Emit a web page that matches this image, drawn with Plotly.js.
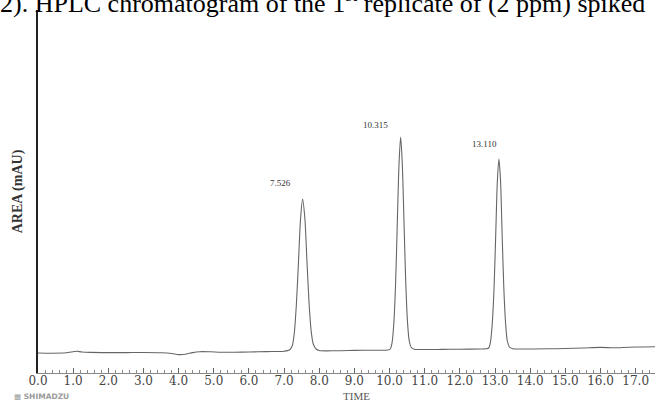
<!DOCTYPE html>
<html>
<head>
<meta charset="utf-8">
<script src="https://cdn.plot.ly/plotly-3.0.1.min.js"></script>
<style>
  html, body { margin: 0; padding: 0; background: #ffffff; }
  #chart { width: 661px; height: 403px; }
</style>
</head>
<body>
<div id="chart"></div>
<script>
// Retention time (min) and detector signal (mAU, relative to baseline)
const times = [
  0.00, 0.40, 0.80, 1.00, 1.10, 1.25, 1.50, 2.00, 2.50, 3.00, 3.50, 3.80, 4.00, 4.20, 4.40, 4.60, 4.90, 5.20, 5.60, 6.00, 6.50, 7.00,
  7.15, 7.23, 7.29, 7.35, 7.41, 7.47, 7.526, 7.59, 7.65, 7.71, 7.77, 7.83, 7.91, 8.00,
  8.50, 9.00, 9.50,
  9.95, 10.02, 10.07, 10.12, 10.17, 10.22, 10.27, 10.315, 10.36, 10.41, 10.46, 10.51, 10.56, 10.62, 10.70, 10.80,
  11.50, 12.00, 12.60,
  12.75, 12.82, 12.87, 12.92, 12.97, 13.02, 13.065, 13.110, 13.155, 13.20, 13.25, 13.30, 13.35, 13.41, 13.50,
  13.80, 14.50, 15.00, 15.50, 16.00, 16.40, 16.80, 17.20, 17.55
];
const signal = [
  -1.0, -1.2, -0.8, 0.3, 0.8, 0.0, -0.4, -0.6, -0.6, -0.5, -0.8, -1.5, -2.6, -2.2, -0.6, 0.3, 0.2, -0.2, -0.2, 0.0, 0.4, 0.8,
  2.0, 6, 19, 48, 91, 134, 153, 134, 91, 49, 21, 8, 3, 1.5,
  1.3, 1.6, 1.8,
  2.0, 3, 9, 28, 67, 129, 189, 215, 190, 131, 70, 30, 11, 4.5, 2.8, 2.5,
  2.6, 2.8, 3.0,
  3.2, 4, 10, 28, 62, 118, 170, 193, 172, 120, 64, 29, 11, 5, 3.3,
  3.0, 3.2, 3.5, 4.0, 4.6, 4.2, 4.8, 5.0, 5.2
];

// Peak apex annotations
const peakTimes = [7.526, 10.315, 13.110];
const peakHeights = [153, 215, 193];
const peakLabels = ['7.526', '10.315', '13.110'];

const labelDx = [-22.5, -25, -14.5];
const labelDy = [16.5, 12.5, 15];

const serif = 'Liberation Serif, Times New Roman, serif';

const annotations = peakTimes.map((t, i) => ({
  x: t, y: peakHeights[i], xref: 'x', yref: 'y',
  text: peakLabels[i], showarrow: false,
  xanchor: 'center', yanchor: 'middle',
  xshift: labelDx[i], yshift: labelDy[i],
  font: { family: serif, size: 9, color: '#333333' }
}));

annotations.push({
  xref: 'paper', yref: 'paper', x: -0.0648, y: 0.9735,
  xanchor: 'left', yanchor: 'bottom', showarrow: false,
  text: '2). HPLC chromatogram of the 1<sup>st</sup> replicate of (2 ppm) spiked',
  font: { family: serif, size: 26, color: '#000000' }
});
annotations.push({
  xref: 'paper', yref: 'paper', x: 0.517, y: -0.0634,
  xanchor: 'center', yanchor: 'middle', showarrow: false,
  text: 'TIME',
  font: { family: serif, size: 11, color: '#555555' }
});
annotations.push({
  xref: 'paper', yref: 'paper', x: -0.042, y: -0.0634,
  xanchor: 'left', yanchor: 'middle', showarrow: false,
  text: '<b>▦ SHIMADZU</b>',
  font: { family: 'DejaVu Sans, sans-serif', size: 7.5, color: '#9a9a9a' }
});

const trace = {
  x: times, y: signal, type: 'scatter', mode: 'lines',
  line: { color: '#666666', width: 1.1, shape: 'spline', smoothing: 0.8 },
  hoverinfo: 'skip', showlegend: false
};

const layout = {
  width: 661, height: 403,
  margin: { l: 38, r: 6, t: 10, b: 30 },
  paper_bgcolor: '#ffffff', plot_bgcolor: '#ffffff',
  showlegend: false,
  xaxis: {
    range: [0, 17.55], tick0: 0, dtick: 1, tickformat: '.1f',
    ticks: 'inside', ticklen: 5, tickwidth: 1, tickcolor: '#666666',
    minor: { dtick: 0.2, ticks: 'inside', ticklen: 3, tickcolor: '#888888', showgrid: false },
    showline: true, linecolor: '#888888', linewidth: 1,
    showgrid: false, zeroline: false,
    ticklabelstandoff: -3,
    tickfont: { family: 'DejaVu Serif, serif', size: 12, color: '#444444' }
  },
  yaxis: {
    range: [-21, 342],
    showline: true, linecolor: '#222222', linewidth: 2.5,
    showticklabels: false, ticks: '', showgrid: false, zeroline: false,
    title: { text: '<b>AREA (mAU)</b>', standoff: 10, font: { family: serif, size: 14, color: '#333333' } }
  },
  annotations: annotations
};

Plotly.newPlot('chart', [trace], layout, { staticPlot: true, displayModeBar: false });
</script>
</body>
</html>
